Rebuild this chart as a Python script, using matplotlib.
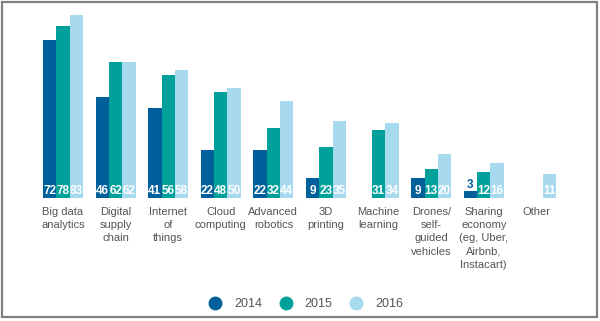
import numpy as np
import matplotlib
matplotlib.use("Agg")
import matplotlib.pyplot as plt
from matplotlib.lines import Line2D
from matplotlib.patches import Rectangle

plt.rcParams['font.family'] = ['Liberation Sans', 'DejaVu Sans']

categories = [
    "Big data\nanalytics", "Digital\nsupply\nchain", "Internet\nof\nthings",
    "Cloud\ncomputing", "Advanced\nrobotics", "3D\nprinting", "Machine\nlearning",
    "Drones/\nself-\nguided\nvehicles",
    "Sharing\neconomy\n(eg, Uber,\nAirbnb,\nInstacart)", "Other",
]
years = ["2014", "2015", "2016"]
v2014 = [72, 46, 41, 22, 22, 9, np.nan, 9, 3, np.nan]
v2015 = [78, 62, 56, 48, 32, 23, 31, 13, 12, np.nan]
v2016 = [83, 62, 58, 50, 44, 35, 34, 20, 16, 11]
colors = ["#00609b", "#00a19b", "#a7daee"]

W, H = 600, 321
fig = plt.figure(figsize=(W / 100, H / 100), dpi=100)
# axes placed in pixel terms
left, right, base, top = 36.7, 562.7, 198, 8.8
ax = fig.add_axes([left / W, (H - base) / H, (right - left) / W, (base - top) / H])

x = np.arange(len(categories))
bw = 0.253
for k, (vals, c) in enumerate(zip([v2014, v2015, v2016], colors)):
    xs = x + (k - 1) * bw
    ax.bar(xs, vals, width=bw, color=c, linewidth=0)
    for xi, v in zip(xs, vals):
        if np.isnan(v):
            continue
        if v < 5:
            ax.text(xi, v + 0.3, f"{v:g}", ha="center", va="bottom",
                    color=colors[0], fontsize=8.5, fontweight="bold")
        else:
            ax.text(xi, 0.3, f"{v:g}", ha="center", va="bottom",
                    color="white", fontsize=8.5, fontweight="bold")

ax.set_xlim(-0.5, len(categories) - 0.5)
ax.set_ylim(0, 86)
ax.set_yticks([])
ax.set_xticks(x)
ax.set_xticklabels(categories, fontsize=8, color="#555555", linespacing=1.4)
ax.tick_params(axis="x", length=0, pad=6.5)
for s in ax.spines.values():
    s.set_visible(False)

handles = [Line2D([], [], marker="o", linestyle="none", markersize=9,
                  markerfacecolor=c, markeredgecolor=c) for c in colors]
fig.legend(handles, years, loc="center", bbox_to_anchor=(303 / W, 17 / H),
           ncol=3, frameon=False, fontsize=9, labelcolor="#555555",
           handletextpad=0.5, columnspacing=0.9)

fig.add_artist(Rectangle((1.5 / W, 4 / H), 595.5 / W, 315.5 / H,
                         transform=fig.transFigure, fill=False,
                         edgecolor="#808080", linewidth=1.6))

fig.savefig("out.png", dpi=100)
